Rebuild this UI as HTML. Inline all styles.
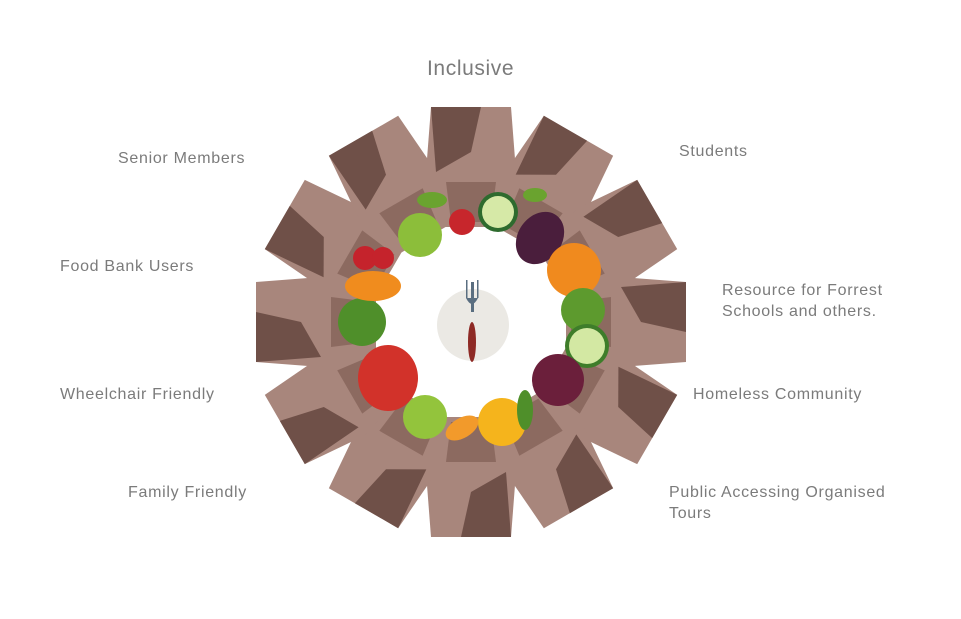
<!DOCTYPE html>
<html><head><meta charset="utf-8"><style>
body{margin:0;background:#fff;width:961px;height:619px;overflow:hidden;font-family:"Liberation Sans",sans-serif}
.t{position:absolute;color:#7b7b7b;font-size:16px;line-height:21px;letter-spacing:0.7px;white-space:nowrap}
</style></head><body>
<div class="t" style="left:427px;top:58px;font-size:21px;letter-spacing:0.6px">Inclusive</div>
<div class="t" style="left:118px;top:148px">Senior Members</div>
<div class="t" style="left:679px;top:141px">Students</div>
<div class="t" style="left:60px;top:256px">Food Bank Users</div>
<div class="t" style="left:722px;top:280px">Resource for Forrest<br>Schools and others.</div>
<div class="t" style="left:60px;top:384px">Wheelchair Friendly</div>
<div class="t" style="left:693px;top:384px">Homeless Community</div>
<div class="t" style="left:128px;top:482px">Family Friendly</div>
<div class="t" style="left:669px;top:482px">Public Accessing Organised<br>Tours</div>
<svg width="961" height="619" style="position:absolute;left:0;top:0">
<g transform="translate(471,322)">
<g id="h">
<path d="M-40,-215 L40,-215 L45,-150 L30,-95 L-30,-95 L-45,-150 Z" fill="#a8867c"/>
<path d="M-40,-215 L10,-215 L0,-170 L-35,-150 Z" fill="#6f5048"/>
<path d="M-25,-140 L25,-140 L20,-100 L-20,-100 Z" fill="#8c6a60"/>
</g>
<use href="#h" transform="rotate(30)"/><use href="#h" transform="rotate(60)"/>
<use href="#h" transform="rotate(90)"/><use href="#h" transform="rotate(120)"/>
<use href="#h" transform="rotate(150)"/><use href="#h" transform="rotate(180)"/>
<use href="#h" transform="rotate(210)"/><use href="#h" transform="rotate(240)"/>
<use href="#h" transform="rotate(270)"/><use href="#h" transform="rotate(300)"/>
<use href="#h" transform="rotate(330)"/>
<circle r="95" fill="#fff"/>
<circle cx="2" cy="3" r="36" fill="#ebe9e4"/>
</g>
<rect x="471" y="282" width="3" height="30" fill="#5a6e80"/>
<rect x="466" y="280" width="1.5" height="18" fill="#5a6e80"/><rect x="477" y="280" width="1.5" height="18" fill="#5a6e80"/>
<path d="M466,298 Q472,310 478,298" fill="#5a6e80"/>
<ellipse cx="472" cy="342" rx="4" ry="20" fill="#8e2a25"/>
<circle cx="420" cy="235" r="22" fill="#8cbe3a"/>
<circle cx="462" cy="222" r="13" fill="#c7262c"/>
<circle cx="498" cy="212" r="20" fill="#2e6b2e"/><circle cx="498" cy="212" r="16" fill="#d6e9a7"/>
<ellipse cx="540" cy="238" rx="22" ry="28" fill="#4a1e3c" transform="rotate(35 540 238)"/>
<circle cx="574" cy="270" r="27" fill="#f08a1e"/>
<circle cx="583" cy="310" r="22" fill="#5d9a2e"/>
<circle cx="587" cy="346" r="22" fill="#3e7d2a"/><circle cx="587" cy="346" r="18" fill="#d3e8a3"/>
<circle cx="558" cy="380" r="26" fill="#6b1f3b"/>
<circle cx="502" cy="422" r="24" fill="#f5b41c"/>
<ellipse cx="462" cy="428" rx="18" ry="10" fill="#f29a2b" transform="rotate(-30 462 428)"/>
<circle cx="425" cy="417" r="22" fill="#93c43c"/>
<ellipse cx="388" cy="378" rx="30" ry="33" fill="#d2322a"/>
<circle cx="362" cy="322" r="24" fill="#4f8f2a"/>
<ellipse cx="373" cy="286" rx="28" ry="15" fill="#f08c1e"/>
<circle cx="365" cy="258" r="12" fill="#c5232c"/><circle cx="383" cy="258" r="11" fill="#c5232c"/>
<ellipse cx="432" cy="200" rx="15" ry="8" fill="#6aa32f"/>
<ellipse cx="535" cy="195" rx="12" ry="7" fill="#6aa32f"/>
<ellipse cx="525" cy="410" rx="8" ry="20" fill="#4f8f2a"/>
</svg>
</body></html>
